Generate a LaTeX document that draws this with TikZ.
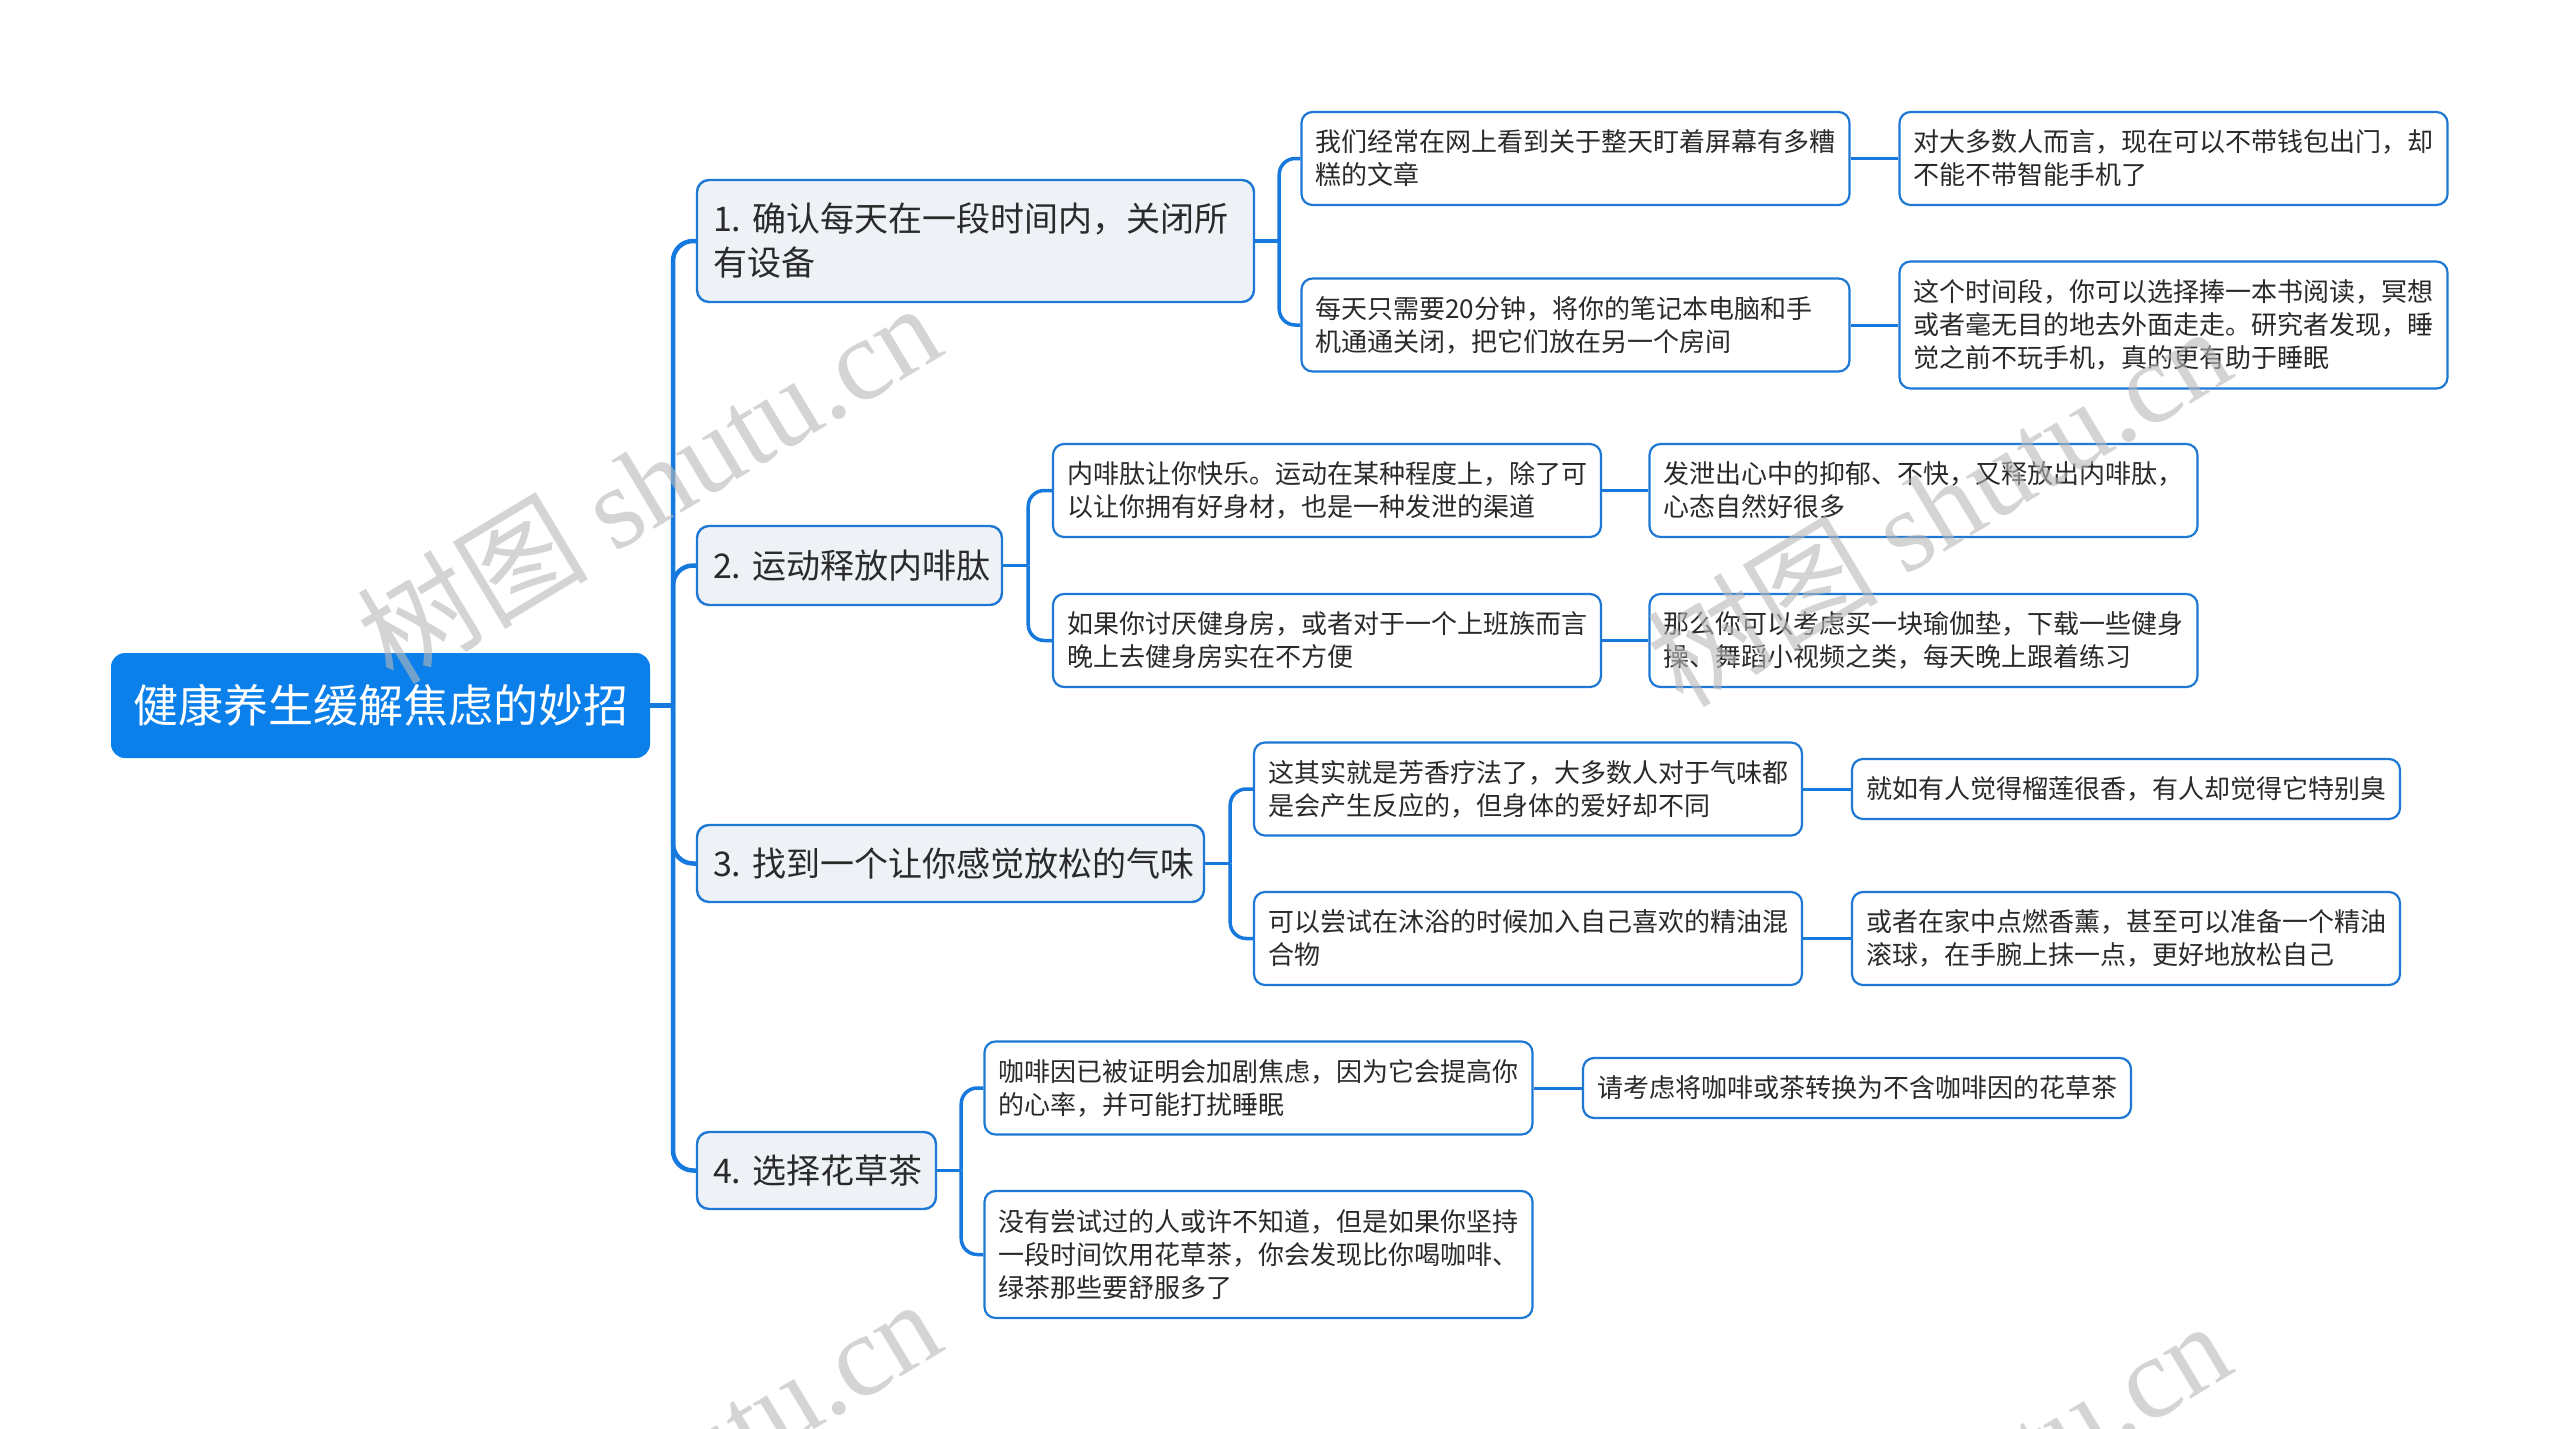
\documentclass[tikz,border=0pt]{standalone}
\usepackage{fontspec}
\setmainfont{Noto Sans CJK SC}
\newfontfamily\wmlatin{Liberation Serif}
\definecolor{rootc}{HTML}{0B80EA}
\definecolor{linec}{HTML}{1679DE}
\definecolor{bordc}{HTML}{1F78D4}
\definecolor{topfill}{HTML}{EEF2F6}
\definecolor{textc}{HTML}{2A2A2A}
\definecolor{wmgray}{HTML}{B8B8B8}
\tikzset{
  rootbox/.style={fill=rootc, rounded corners=14pt, minimum width=539pt, minimum height=105pt,
    inner sep=0pt, text=white, font=\fontsize{45}{54}\selectfont},
  topicbox/.style={draw=bordc, fill=topfill, line width=2.4pt, rounded corners=12pt,
    inner xsep=16pt, inner ysep=0pt, align=left, text=textc, font=\fontsize{34}{44}\selectfont},
  subbox/.style={draw=bordc, fill=white, line width=2.2pt, rounded corners=11pt,
    inner xsep=14pt, inner ysep=0pt, text width=520pt, align=left, text=textc,
    font=\fontsize{26}{33}\selectfont},
  trunk/.style={draw=linec, line width=4.5pt},
  branch/.style={draw=linec, line width=3.5pt},
  leafline/.style={draw=linec, line width=3pt},
  wm/.style={rotate=31, text=wmgray, text opacity=0.6, inner sep=0pt,
    font=\fontsize{116}{116}\selectfont}
}
\begin{document}
\begin{tikzpicture}[x=1pt,y=-1pt]
\useasboundingbox (0,0) rectangle (2560,1429);
\fill[white] (0,0) rectangle (2560,1429);

% root
\node[rootbox] (root) at (380.5,705.5) {健康养生缓解焦虑的妙招};

% level 1
\node[topicbox, text width=525pt, minimum height=122pt] (t1) at (975.5,241) {1.~确认每天在一段时间内，关闭所\\有设备};
\node[topicbox, text width=273pt, minimum height=79pt] (t2) at (849.5,565.5) {2.~运动释放内啡肽};
\node[topicbox, text width=475pt, minimum height=77pt] (t3) at (950.5,863.5) {3.~找到一个让你感觉放松的气味};
\node[topicbox, text width=207pt, minimum height=77pt] (t4) at (816.5,1170.5) {4.~选择花草茶};

% level 2
\node[subbox, minimum height=93pt] (s1a) at (1575.5,158.5) {我们经常在网上看到关于整天盯着屏幕有多糟\\糕的文章};
\node[subbox, minimum height=93pt] (s1b) at (1575.5,325) {每天只需要20分钟，将你的笔记本电脑和手\\机通通关闭，把它们放在另一个房间};
\node[subbox, minimum height=93pt] (s1a1) at (2173.5,158.5) {对大多数人而言，现在可以不带钱包出门，却\\不能不带智能手机了};
\node[subbox, minimum height=127pt] (s1b1) at (2173.5,325) {这个时间段，你可以选择捧一本书阅读，冥想\\或者毫无目的地去外面走走。研究者发现，睡\\觉之前不玩手机，真的更有助于睡眠};

\node[subbox, minimum height=93pt] (s2a) at (1327,490.5) {内啡肽让你快乐。运动在某种程度上，除了可\\以让你拥有好身材，也是一种发泄的渠道};
\node[subbox, minimum height=93pt] (s2a1) at (1923.5,490.5) {发泄出心中的抑郁、不快，又释放出内啡肽，\\心态自然好很多};
\node[subbox, minimum height=93pt] (s2b) at (1327,640.5) {如果你讨厌健身房，或者对于一个上班族而言\\晚上去健身房实在不方便};
\node[subbox, minimum height=93pt] (s2b1) at (1923.5,640.5) {那么你可以考虑买一块瑜伽垫，下载一些健身\\操、舞蹈小视频之类，每天晚上跟着练习};

\node[subbox, minimum height=93pt] (s3a) at (1528,789) {这其实就是芳香疗法了，大多数人对于气味都\\是会产生反应的，但身体的爱好却不同};
\node[subbox, minimum height=60pt] (s3a1) at (2126,789) {就如有人觉得榴莲很香，有人却觉得它特别臭};
\node[subbox, minimum height=93pt] (s3b) at (1528,938.5) {可以尝试在沐浴的时候加入自己喜欢的精油混\\合物};
\node[subbox, minimum height=93pt] (s3b1) at (2126,938.5) {或者在家中点燃香薰，甚至可以准备一个精油\\滚球，在手腕上抹一点，更好地放松自己};

\node[subbox, minimum height=93pt] (s4a) at (1258.5,1088) {咖啡因已被证明会加剧焦虑，因为它会提高你\\的心率，并可能打扰睡眠};
\node[subbox, minimum height=60pt] (s4a1) at (1857,1088) {请考虑将咖啡或茶转换为不含咖啡因的花草茶};
\node[subbox, minimum height=127pt] (s4b) at (1258.5,1254.5) {没有尝试过的人或许不知道，但是如果你坚持\\一段时间饮用花草茶，你会发现比你喝咖啡、\\绿茶那些要舒服多了};

% connectors root -> level 1
\coordinate (j0) at (673,705.5);
\draw[trunk] (root.east) -- (j0);
\foreach \n in {t1,t2,t3,t4}
  \draw[trunk, rounded corners=20pt] (j0) |- (\n.west);

% level 1 -> level 2
\coordinate (j1) at ([xshift=24pt]t1.east);
\coordinate (j2) at ([xshift=25pt]t2.east);
\coordinate (j3) at ([xshift=25pt]t3.east);
\coordinate (j4) at ([xshift=24pt]t4.east);
\foreach \t/\j/\a/\b in {t1/j1/s1a/s1b, t2/j2/s2a/s2b, t3/j3/s3a/s3b, t4/j4/s4a/s4b}{
  \draw[branch] (\t.east) -- (\j);
  \draw[branch, rounded corners=16pt] (\j) |- (\a.west);
  \draw[branch, rounded corners=16pt] (\j) |- (\b.west);
}

% level 2 -> level 3
\foreach \a/\b in {s1a/s1a1, s1b/s1b1, s2a/s2a1, s2b/s2b1, s3a/s3a1, s3b/s3b1, s4a/s4a1}
  \draw[leafline] (\a.east) -- (\b.west);

% watermarks
\begin{scope}
\clip (0,0) rectangle (2560,1429);
\foreach \x/\y/\n in {648/482/wm1, 1938/505/wm2, 648/1478/wm3, 1938/1500/wm4}
  \node[wm] (\n) at (\x,\y) {树图 {\wmlatin shutu.cn}};
\end{scope}
\end{tikzpicture}
\end{document}
